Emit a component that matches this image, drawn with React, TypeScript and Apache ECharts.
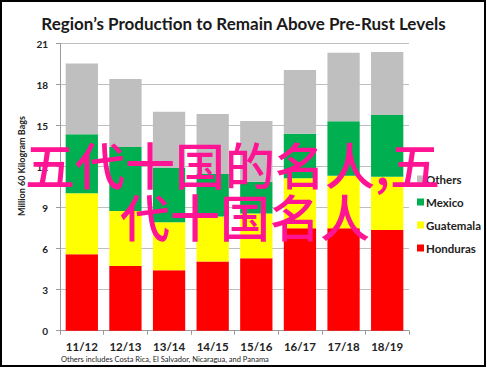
import React, { useEffect, useRef } from "react";
import * as echarts from "echarts";

const categories = ["11/12", "12/13", "13/14", "14/15", "15/16", "16/17", "17/18", "18/19"];
const honduras = [5.6, 4.73, 4.42, 5.07, 5.3, 7.5, 7.5, 7.37];
const guatemala = [4.45, 4.03, 3.51, 3.28, 3.27, 3.65, 3.84, 3.9];
const mexico = [4.32, 4.68, 3.97, 3.11, 2.33, 3.26, 3.98, 4.51];
const others = [5.19, 4.97, 4.12, 4.39, 4.44, 4.66, 5.02, 4.61];
const legendOrder = ["Others", "Mexico", "Guatemala", "Honduras"];

const FONT = "Lato, 'Liberation Sans', sans-serif";

export default function App() {
  const ref = useRef<HTMLDivElement>(null);
  useEffect(() => {
    if (!ref.current) return;
    const chart = echarts.init(ref.current, null, { renderer: "svg" });
    const mk = (name: string, data: number[], color: string) => ({
      name,
      type: "bar",
      stack: "total",
      data,
      barWidth: "74%",
      itemStyle: { color },
      emphasis: { disabled: true },
    });
    chart.setOption({
      animation: false,
      backgroundColor: "#ffffff",
      title: {
        text: "Region\u2019s Production to Remain Above Pre-Rust Levels",
        left: "center",
        top: 10,
        textStyle: { fontFamily: FONT, fontSize: 17, fontWeight: "bold", color: "#1a1a1a" },
      },
      grid: { left: 60, right: 78, top: 43.7, bottom: 38.3, containLabel: false },
      legend: {
        data: legendOrder,
        orient: "vertical",
        left: 412,
        top: 168,
        itemWidth: 7,
        itemHeight: 7,
        itemGap: 11,
        icon: "rect",
        textStyle: { fontFamily: FONT, fontSize: 11.5, fontWeight: "bold", color: "#222", padding: [0, 0, 0, -3] },
      },
      xAxis: {
        type: "category",
        data: categories,
        axisLine: { lineStyle: { color: "#9a9a9a" } },
        axisTick: { show: true, alignWithLabel: false, length: 4, lineStyle: { color: "#9a9a9a" } },
        axisLabel: { fontFamily: FONT, fontSize: 11.5, fontWeight: "bold", color: "#222", margin: 10 },
      },
      yAxis: {
        type: "value",
        min: 0,
        max: 21,
        interval: 3,
        axisLine: { show: true, lineStyle: { color: "#9a9a9a" } },
        axisTick: { show: true, length: 4, lineStyle: { color: "#9a9a9a" } },
        splitLine: { lineStyle: { color: "#bfbfbf", width: 1 } },
        axisLabel: { fontFamily: FONT, fontSize: 10, fontWeight: "bold", color: "#222", margin: 12 },
      },
      series: [
        mk("Honduras", honduras, "#FF0000"),
        mk("Guatemala", guatemala, "#FFFF00"),
        mk("Mexico", mexico, "#00B050"),
        mk("Others", others, "#BFBFBF"),
      ],
      graphic: [
        {
          type: "rect",
          shape: { x: 1, y: 1, width: 484, height: 365 },
          style: { fill: "none", stroke: "#000", lineWidth: 2 },
          silent: true,
        },
        {
          type: "text",
          x: 21,
          y: 166,
          rotation: Math.PI / 2,
          style: {
            text: "Million 60 Kilogram Bags",
            fontFamily: FONT,
            fontSize: 9,
            fontWeight: "bold",
            fill: "#222",
            align: "center",
            verticalAlign: "middle",
          },
        },
        {
          type: "text",
          x: 61,
          y: 359,
          style: {
            text: "Others includes Costa Rica, El Salvador, Nicaragua, and Panama",
            fontFamily: FONT,
            fontSize: 7.5,
            fill: "#222",
            align: "left",
            verticalAlign: "middle",
          },
        },
        {
          type: "text",
          x: 25,
          y: 163,
          z: 100,
          style: {
            text: "五代十国的名人,五",
            fontFamily: "'Noto Sans CJK SC'",
            fontSize: 50,
            fontWeight: 500,
            fill: "#FF1493",
            align: "left",
            verticalAlign: "middle",
          },
        },
        {
          type: "text",
          x: 120,
          y: 215,
          z: 100,
          style: {
            text: "代十国名人",
            fontFamily: "'Noto Sans CJK SC'",
            fontSize: 50,
            fontWeight: 500,
            fill: "#FF1493",
            align: "left",
            verticalAlign: "middle",
          },
        },
      ],
    });
    return () => chart.dispose();
  }, []);
  return <div ref={ref} style={{ position: "fixed", left: 0, top: 0, width: 487, height: 369 }} />;
}
